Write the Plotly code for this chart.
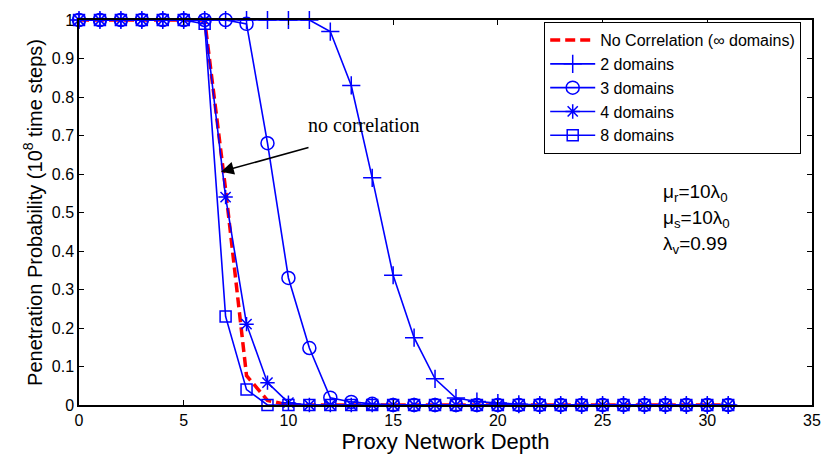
import plotly.graph_objects as go

depth = list(range(0, 32))

no_corr = [1, 1, 1, 1, 1, 1, 1, 0.56, 0.076, 0.012] + [0] * 22
dom2 = [1] * 12 + [0.97, 0.83, 0.59, 0.337, 0.175, 0.068, 0.018, 0.009, 0.005, 0.002] + [0] * 10
dom3 = [1] * 8 + [0.99, 0.68, 0.33, 0.148, 0.019, 0.008, 0.003] + [0] * 17
dom4 = [1] * 7 + [0.54, 0.21, 0.058, 0.006] + [0] * 21
dom8 = [1] * 6 + [0.99, 0.23, 0.04, 0.0] + [0] * 22

names = ["No Correlation (\u221e domains)", "2 domains", "3 domains", "4 domains", "8 domains"]
xticks = [0, 5, 10, 15, 20, 25, 30, 35]
yticks = [0, 0.1, 0.2, 0.3, 0.4, 0.5, 0.6, 0.7, 0.8, 0.9, 1]
yticktext = ["0", "0.1", "0.2", "0.3", "0.4", "0.5", "0.6", "0.7", "0.8", "0.9", "1"]

BLUE = "#0000FF"
RED = "#FF0000"
SANS = "Liberation Sans, Arial, Helvetica, sans-serif"

fig = go.Figure()
fig.add_trace(go.Scatter(x=depth, y=no_corr, mode="lines", name=names[0],
                         line=dict(color=RED, width=3.5, dash="10px,5px"), cliponaxis=False))
specs = [(dom2, names[1], "cross-thin-open", 13),
         (dom3, names[2], "circle-open", 13),
         (dom4, names[3], "asterisk-open", 12),
         (dom8, names[4], "square-open", 11)]
for vals, nm, sym, sz in specs:
    fig.add_trace(go.Scatter(x=depth, y=vals, mode="lines+markers", name=nm,
                             line=dict(color=BLUE, width=1.6),
                             marker=dict(symbol=sym, size=sz, color=BLUE,
                                         line=dict(color=BLUE, width=1.5)),
                             cliponaxis=False))

fig.add_annotation(x=6.78, y=0.606, ax=11.03, ay=0.670, xref="x", yref="y",
                   axref="x", ayref="y", text="", showarrow=True,
                   arrowhead=2, arrowsize=1.6, arrowwidth=1.6, arrowcolor="black", standoff=0)
fig.add_annotation(x=13.62, y=0.728, text="no correlation", showarrow=False,
                   font=dict(family="Liberation Serif, Times New Roman, serif", size=20, color="black"))

params = ["\u03bc<sub>r</sub>=10\u03bb<sub>0</sub>",
          "\u03bc<sub>s</sub>=10\u03bb<sub>0</sub>",
          "\u03bb<sub>v</sub>=0.99"]
param_y = [0.55, 0.483, 0.416]
for t, yy in zip(params, param_y):
    fig.add_annotation(x=27.77, y=yy, text=t, showarrow=False, xanchor="left", yanchor="middle",
                       font=dict(family=SANS, size=19, color="black"))

fig.update_xaxes(range=[0, 35], tickvals=xticks, ticks="inside", ticklen=5, tickwidth=1,
                 tickcolor="black", showline=True, linecolor="black", linewidth=1.5,
                 mirror="ticks", showgrid=False, zeroline=False,
                 tickfont=dict(family=SANS, size=16, color="black"),
                 title=dict(text="Proxy Network Depth", standoff=3,
                            font=dict(family=SANS, size=22, color="black")))
fig.update_yaxes(range=[0, 1], tickvals=yticks, ticktext=yticktext, ticks="inside", ticklen=5,
                 tickwidth=1, tickcolor="black", showline=True, linecolor="black", linewidth=1.5,
                 mirror="ticks", showgrid=False, zeroline=False,
                 tickfont=dict(family=SANS, size=16, color="black"),
                 title=dict(text="Penetration Probability (10<sup>8</sup> time steps)", standoff=4,
                            font=dict(family=SANS, size=20, color="black")))

fig.update_layout(
    width=833, height=459,
    margin=dict(l=79, r=12, t=13, b=43),
    paper_bgcolor="white", plot_bgcolor="white",
    showlegend=True,
    legend=dict(x=0.985, y=0.995, xanchor="right", yanchor="top",
                bordercolor="black", borderwidth=1.2, bgcolor="white",
                itemwidth=45, font=dict(family=SANS, size=16, color="black")),
)

fig.write_html("out.html")
